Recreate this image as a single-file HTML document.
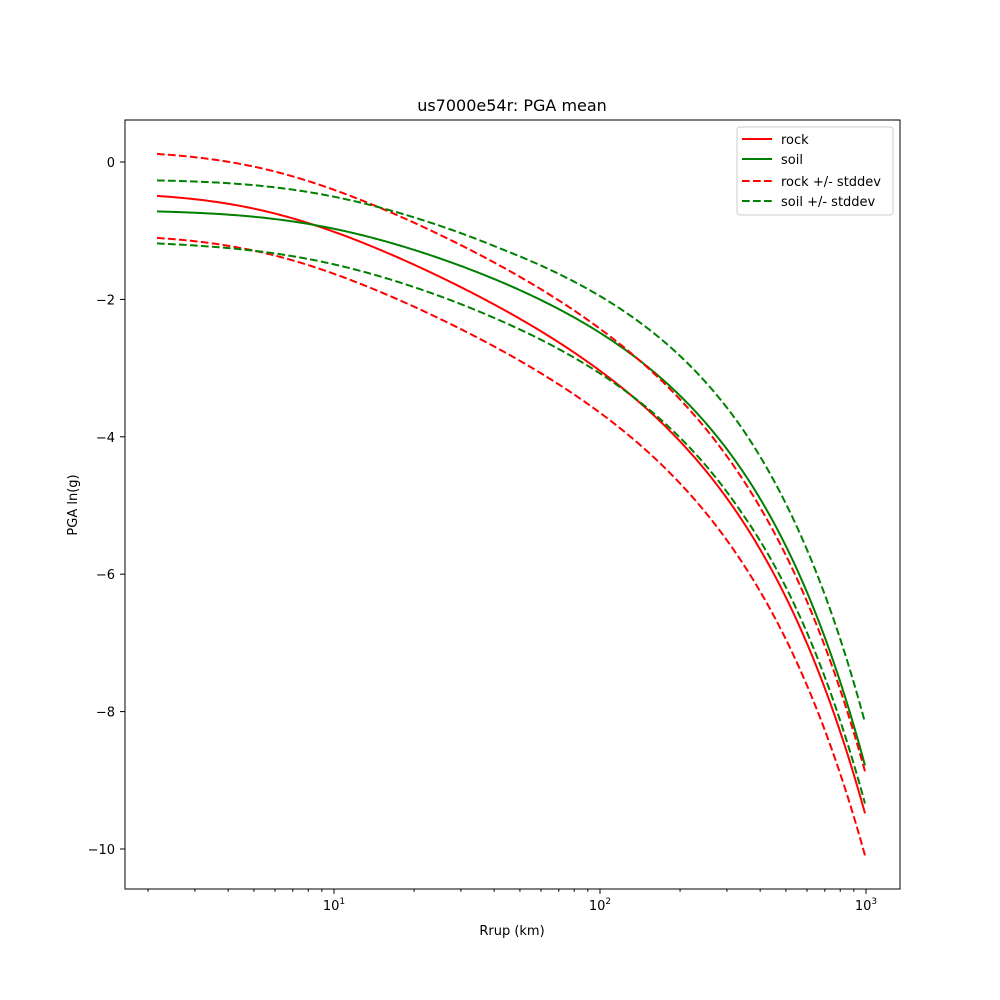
<!DOCTYPE html>
<html><head><meta charset="utf-8"><style>
body{margin:0;background:#fff;}
svg{display:block;font-family:"DejaVu Sans","Liberation Sans",sans-serif;}
</style></head><body>
<svg id="s" width="1000" height="1000" xmlns="http://www.w3.org/2000/svg">
<rect width="1000" height="1000" fill="#fff"/>
<g id="curves"></g>
<rect x="125" y="120" width="775" height="769" fill="none" stroke="#000" stroke-width="1"/>
<g id="ticks" stroke="#000" stroke-width="1"></g>
<g id="labels" font-size="13" fill="#000"></g>
<text x="512" y="111" font-size="16" text-anchor="middle">us7000e54r: PGA mean</text>
<text x="512" y="935" font-size="13" text-anchor="middle">Rrup (km)</text>
<text transform="translate(77,505) rotate(-90)" font-size="13" text-anchor="middle">PGA ln(g)</text>
<g>
<rect x="737" y="127" width="156" height="88" rx="3" fill="#fff" fill-opacity="0.8" stroke="#ccc"/>
<line x1="742" y1="139" x2="772" y2="139" stroke="#f00" stroke-width="2"/>
<line x1="742" y1="159" x2="772" y2="159" stroke="#008000" stroke-width="2"/>
<line x1="742" y1="181" x2="772" y2="181" stroke="#f00" stroke-width="2" stroke-dasharray="7.7,3.3"/>
<line x1="742" y1="201" x2="772" y2="201" stroke="#008000" stroke-width="2" stroke-dasharray="7.7,3.3"/>
<text x="781" y="144" font-size="13">rock</text>
<text x="781" y="164" font-size="13">soil</text>
<text x="781" y="186" font-size="13">rock +/- stddev</text>
<text x="781" y="206" font-size="13">soil +/- stddev</text>
</g>
</svg>
<script>
const X=r=>334+(Math.log10(r)-1)*266;
const Y=v=>162-v*68.7;
const Rof=x=>Math.pow(10,(x-334)/266+1);
function solve(A,b){const n=b.length;A=A.map((r,i)=>[...r,b[i]]);
for(let i=0;i<n;i++){let p=i;for(let k=i+1;k<n;k++)if(Math.abs(A[k][i])>Math.abs(A[p][i]))p=k;[A[i],A[p]]=[A[p],A[i]];
for(let k=0;k<n;k++)if(k!=i){const f=A[k][i]/A[i][i];for(let j=i;j<=n;j++)A[k][j]-=f*A[i][j];}}
return A.map((r,i)=>r[n]/r[i]);}
function fit(P){let best=null;
for(let h=0.5;h<30;h+=0.1){
const F=x=>{const r=Rof(x);return [1,Math.log(Math.sqrt(r*r+h*h)),r];};
const M=[[0,0,0],[0,0,0],[0,0,0]],v=[0,0,0];
for(const [x,y] of P){const f=F(x);for(let i=0;i<3;i++){v[i]+=f[i]*y;for(let j=0;j<3;j++)M[i][j]+=f[i]*f[j];}}
const c=solve(M,v);let e=0;for(const [x,y] of P){const f=F(x);e+=(c[0]+c[1]*f[1]+c[2]*f[2]-y)**2;}
if(!best||e<best.e)best={e,c,F};}
const {c,F}=best;return x=>{const f=F(x);return c[0]+c[1]*f[1]+c[2]*f[2];};}
const rock=fit([[157,196],[258,209],[325,230],[392,254],[458,287],[525,322],[583,356],[667,427],[740,518],[800,630],[865,812]]);
const soil=fit([[157,210],[258,219],[325,228],[392,241],[458,263],[525,295],[583,327],[667,376],[740,470],[800,577],[865,765]]);
const lin=P=>x=>{let i=0;while(i<P.length-2&&x>P[i+1][0])i++;const t=(x-P[i][0])/(P[i+1][0]-P[i][0]);return P[i][1]+t*(P[i+1][1]-P[i][1]);};
const sU=lin([[157,31],[500,33],[740,42],[865,43]]);
const sD=lin([[157,32],[500,39],[740,43],[865,38]]);
const defs=[[x=>rock(x),'#f00',0],[x=>soil(x),'#008000',0],
[x=>rock(x)-42,'#f00',1],[x=>rock(x)+42,'#f00',1],
[x=>soil(x)-sU(x),'#008000',1],[x=>soil(x)+sD(x),'#008000',1]];
let g='';
for(const [f,col,d] of defs){let p='';
for(let x=157;x<=865;x+=2){p+=(x==157?'M':'L')+x+','+f(x).toFixed(2);}
g+=`<path d="${p}" fill="none" stroke="${col}" stroke-width="2" ${d?'stroke-dasharray="7.7,3.3"':''}/>`;}
document.getElementById('curves').innerHTML=g;
let t='',l='';
for(let k=0;k<4;k++)for(let m=1;m<10;m++){const r=m*Math.pow(10,k);const x=X(r);if(x<125||x>900)continue;
const L=m==1?3.5:2;t+=`<line x1="${x}" y1="889" x2="${x}" y2="${889+L*1.4}"/>`;
if(m==1)l+=`<text x="${x}" y="910" text-anchor="middle">10<tspan font-size="9" dy="-6">${k}</tspan></text>`;}
for(let v=0;v>=-10;v-=2){const y=Y(v);t+=`<line x1="125" y1="${y}" x2="120" y2="${y}"/>`;
l+=`<text x="115" y="${y+5}" text-anchor="end">${v<0?'\u2212'+(-v):v}</text>`;}
document.getElementById('ticks').innerHTML=t;document.getElementById('labels').innerHTML=l;
</script>
</body></html>
